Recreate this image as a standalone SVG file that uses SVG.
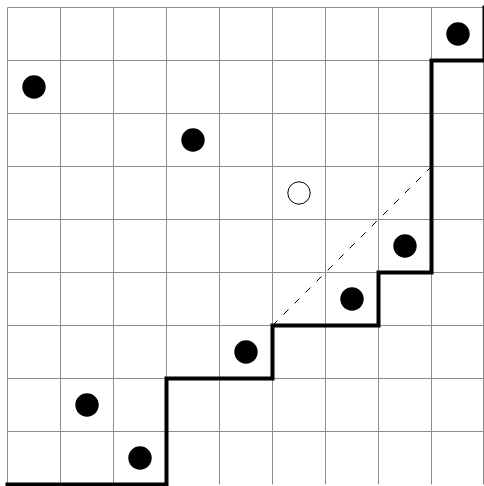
<svg xmlns="http://www.w3.org/2000/svg" width="484" height="486" viewBox="0 0 484 486">
<style>
.grid line{stroke:#8c8c8c;stroke-width:1}
.dot{fill:#000}
.open{fill:#fff;stroke:#000;stroke-width:1}
.path{fill:none;stroke:#000;stroke-width:4;stroke-linejoin:miter;stroke-linecap:square}
.dash{stroke:#000;stroke-width:1;stroke-dasharray:7 8.6}
</style>
<rect width="484" height="486" fill="#fff"/>
<g class="grid">
<line x1="7.5" y1="7.5" x2="7.5" y2="484.5"/>
<line x1="60.5" y1="7.5" x2="60.5" y2="484.5"/>
<line x1="113.5" y1="7.5" x2="113.5" y2="484.5"/>
<line x1="166.5" y1="7.5" x2="166.5" y2="484.5"/>
<line x1="219.5" y1="7.5" x2="219.5" y2="484.5"/>
<line x1="272.5" y1="7.5" x2="272.5" y2="484.5"/>
<line x1="325.5" y1="7.5" x2="325.5" y2="484.5"/>
<line x1="378.5" y1="7.5" x2="378.5" y2="484.5"/>
<line x1="431.5" y1="7.5" x2="431.5" y2="484.5"/>
<line x1="483.5" y1="7.5" x2="483.5" y2="484.5"/>
<line x1="7.5" y1="7.5" x2="484" y2="7.5"/>
<line x1="7.5" y1="60.5" x2="484" y2="60.5"/>
<line x1="7.5" y1="113.5" x2="484" y2="113.5"/>
<line x1="7.5" y1="166.5" x2="484" y2="166.5"/>
<line x1="7.5" y1="219.5" x2="484" y2="219.5"/>
<line x1="7.5" y1="272.5" x2="484" y2="272.5"/>
<line x1="7.5" y1="325.5" x2="484" y2="325.5"/>
<line x1="7.5" y1="378.5" x2="484" y2="378.5"/>
<line x1="7.5" y1="431.5" x2="484" y2="431.5"/>
</g>
<g id="connectors">
<line class="dash" x1="272.5" y1="325.5" x2="431.5" y2="166.5"/>
<path class="path" d="M 7.5 484.5 H 166.5 V 378.5 H 272.5 V 325.5 H 378.5 V 272.5 H 431.5 V 60.5 H 484.5 V 7.5"/>
</g>
<g id="p1"><circle class="dot" cx="458" cy="34" r="11.7"/></g>
<g id="p2"><circle class="dot" cx="34" cy="87" r="11.7"/></g>
<g id="p3"><circle class="dot" cx="193" cy="140" r="11.7"/></g>
<g id="p4"><circle class="open" cx="299" cy="193" r="11.2"/></g>
<g id="p5"><circle class="dot" cx="405" cy="246" r="11.7"/></g>
<g id="p6"><circle class="dot" cx="352" cy="299" r="11.7"/></g>
<g id="p7"><circle class="dot" cx="246" cy="352" r="11.7"/></g>
<g id="p8"><circle class="dot" cx="87" cy="405" r="11.7"/></g>
<g id="p9"><circle class="dot" cx="140" cy="458" r="11.7"/></g>
</svg>
